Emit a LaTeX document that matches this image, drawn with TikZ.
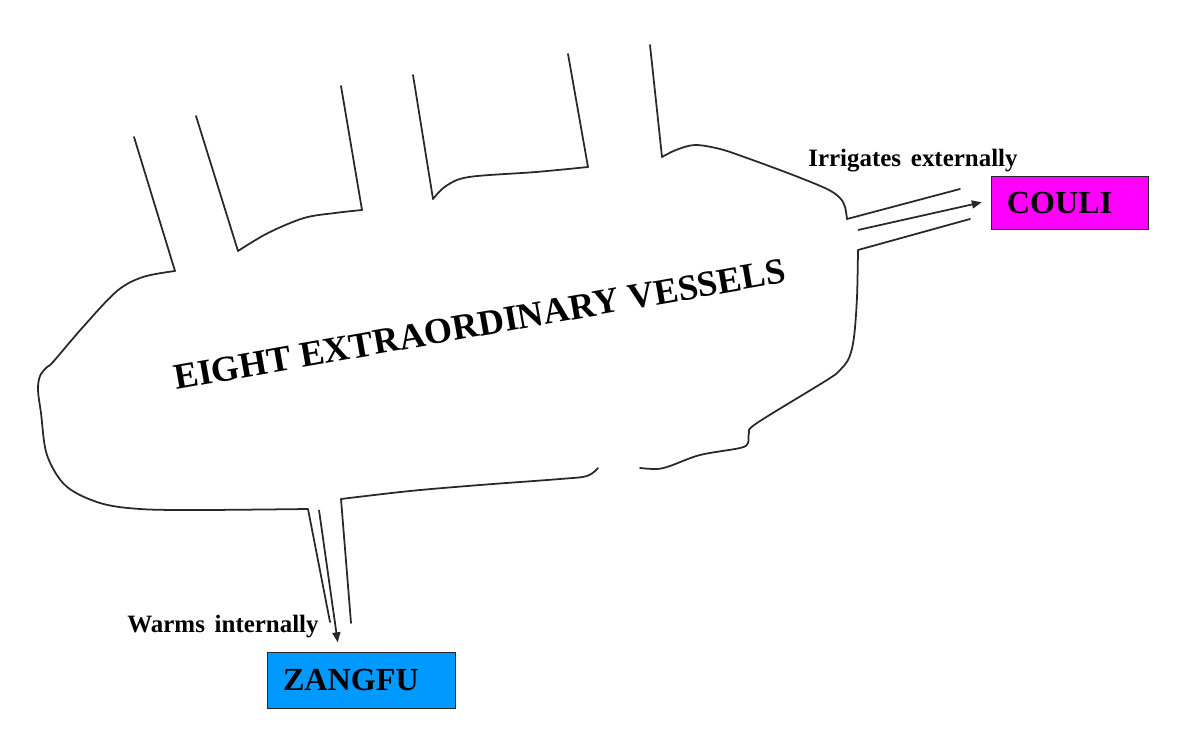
\documentclass[tikz,border=0pt]{standalone}
\usepackage{fontspec}
\setmainfont{Liberation Serif}
\usetikzlibrary{arrows.meta,calc}
\definecolor{couli}{RGB}{255,0,255}
\definecolor{zangfu}{RGB}{0,153,255}
\definecolor{ink}{RGB}{40,40,40}
\begin{document}
\begin{tikzpicture}[x=0.02cm,y=-0.02cm,
  wall/.style={draw=ink,line width=1pt,line join=round,line cap=round},
  crv/.style={smooth,tension=0.55},
  arr/.style={draw=ink,line width=1pt,-{Triangle[length=0.2cm,width=0.16cm]}},
  box/.style={draw=ink,line width=0.6pt,inner sep=0pt,font=\fontsize{18.3}{20}\selectfont\bfseries},
  lbl/.style={inner sep=0pt,font=\fontsize{14.2}{16}\selectfont\bfseries},
  ttl/.style={inner sep=0pt,font=\fontsize{20.6}{24}\selectfont\bfseries}]
\useasboundingbox (0,0) rectangle (1200,747);

% vessel 1, left side, bottom-left, lower tube left wall
\draw[wall] (134,137) -- (175,271) -- plot[crv] coordinates {(175,271) (143,277) (117,291) (83,327) (53,362) (47,367) (40,376) (38,390) (41,413) (47,455) (66,486) (100,503) (140,509) (200,510) (308,509)} -- (330,622);
% lower tube right wall and bottom to the gap
\draw[wall] (351,623) -- (341,499) -- plot[crv] coordinates {(341,499) (410,491) (480,485) (560,479) (587,476) (598,468)};
% bottom right and right side to the upper tube lower wall
\draw[wall] plot[crv] coordinates {(640,468) (657,469) (670,466) (700,455) (740,448) (748,443) (749,433) (757,423) (827,380) (840,370) (849,358) (854,337) (857,297) (858,250)} -- (970,219);
% vessel 4 and top right curve to the upper tube upper wall
\draw[wall] (650,45) -- (662,157) -- plot[crv] coordinates {(662,157) (676,150) (695,145) (720,149) (747,158) (793,175) (827,189) (840,198) (845,207) (847,219)} -- (960,189);
% vessel 3
\draw[wall] (568,54) -- (588,167) -- plot[crv] coordinates {(588,167) (536,172) (469,177) (446,186) (433,199)} -- (413,75);
% vessel 2
\draw[wall] (341,86) -- (362,210) -- plot[crv] coordinates {(362,210) (335,213) (304,218) (268,233) (238,251)} -- (196,116);

% boxes
\node[box,fill=couli,minimum width=3.14cm,minimum height=1.067cm] (couli) at (1069.6,203.3) {COULI\hspace*{0.4cm}};
\node[box,fill=zangfu,minimum width=3.75cm,minimum height=1.11cm] (zangfu) at (361.4,680.5) {ZANGFU\hspace*{0.42cm}};

% labels
\node[ttl,anchor=base west,rotate=10] (title) at (176,390) {EIGHT EXTRAORDINARY VESSELS};
\node[lbl,anchor=base west] (irr) at (808,166) {Irrigates\hspace{0.07cm} externally};
\node[lbl,anchor=base west] (warm) at (127,632) {Warms\hspace{0.07cm} internally};

% arrows
\coordinate (cin) at (858,230);
\coordinate (zin) at (319,510);
\draw[arr,shorten >=0.18cm] (cin) -- ($(couli.west)+(0,-3)$);
\draw[arr,shorten >=0.2cm] (zin) -- ($(zangfu.north west)+(72,0)$);
\end{tikzpicture}
\end{document}
